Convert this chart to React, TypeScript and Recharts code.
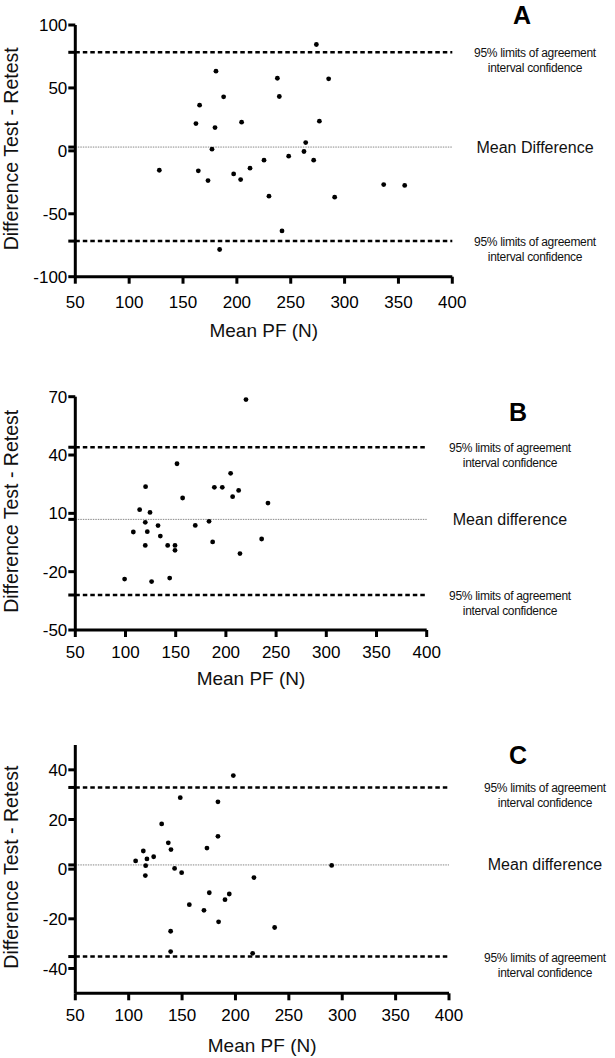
import React from "react";
import { ScatterChart, Scatter, XAxis, YAxis, ReferenceLine } from "recharts";

const FONT = '"Liberation Sans", Arial, Helvetica, sans-serif';

// shared x axis (Mean PF, N)
const meanPfTicks = [50, 100, 150, 200, 250, 300, 350, 400];

// panel A
const meanPfA = [273.8, 180.6, 237.6, 285.2, 187.7, 239.4, 165.4, 162, 204.4, 179.7, 276.6, 263.9, 176.9, 262.3, 248.1, 225.2, 271.3, 128, 164.2, 212.2, 197, 173.2, 203.5, 229.8, 290.8, 336.3, 355.8, 241.9, 184];
const diffA = [84.5, 63.3, 57.7, 57.2, 42.9, 43.2, 36.3, 21.7, 22.8, 18.5, 23.6, 6.6, 1.3, -0.5, -4.2, -7.4, -7.4, -15.4, -15.9, -13.8, -18.3, -23.6, -22.8, -36, -36.8, -26.8, -27.5, -63.6, -78.4];
const yTicksA = [-100, -50, 0, 50, 100];
const limitsA = [78.3, 3, -71.7]; // upper, mean, lower

// panel B
const meanPfB = [220, 151.3, 204.7, 120, 188.5, 196.4, 212.7, 206.7, 156.9, 241.9, 114.1, 124.4, 119.7, 183.2, 132.4, 169.5, 107.8, 121.7, 134.7, 235.6, 186.8, 119.7, 142, 149.3, 149.3, 214, 99.1, 144, 126];
const diffB = [68.5, 35.5, 30.6, 23.7, 23.4, 23.4, 21.8, 18.6, 17.9, 15.3, 11.9, 10.5, 5.4, 5.9, 3.7, 3.8, 0.4, 0.6, -1.7, -3.2, -4.7, -6.5, -6.5, -6.5, -9, -10.7, -23.8, -23.3, -25.1];
const yTicksB = [-50, -20, 10, 40, 70];
const limitsB = [44, 6.9, -32];

// panel C
const meanPfC = [198, 148.3, 183.6, 130.9, 183.6, 137.1, 173.3, 139.6, 113.7, 123.4, 117.1, 106.5, 115.9, 290.1, 143, 149.6, 115.6, 217.3, 175.5, 194.2, 190.2, 156.8, 170.5, 184.2, 236.7, 139.3, 139.3, 216.1];
const diffC = [37.7, 28.8, 27.1, 18.2, 13.2, 10.6, 8.5, 7.9, 7.3, 5, 4.1, 3.3, 1.4, 1.5, 0.3, -1.4, -2.6, -3.4, -9.5, -10, -12.3, -14.3, -16.6, -21.2, -23.5, -25, -33.2, -33.9];
const yTicksC = [-40, -20, 0, 20, 40];
const limitsC = [32.9, 1.7, -35.2];

const limitText = ["95% limits of agreement", "interval confidence"];

const toPoints = (xs: number[], ys: number[]) => xs.map((x, i) => ({ x, y: ys[i] }));

const dot = (p: any) => <circle cx={p.cx} cy={p.cy} r={2.4} fill="#000" />;

const limitLabel = (cx: number) => (props: any) => {
  const y = props.viewBox.y;
  return (
    <g fontFamily={FONT} fontSize={12} fill="#111" textAnchor="middle">
      <text x={cx} y={y + 1} dominantBaseline="central" letterSpacing={-0.3}>{limitText[0]}</text>
      <text x={cx} y={y + 16} dominantBaseline="central" letterSpacing={-0.3}>{limitText[1]}</text>
    </g>
  );
};

const meanLabel = (cx: number, txt: string) => (props: any) => (
  <text x={cx} y={props.viewBox.y} dominantBaseline="central" textAnchor="middle" fontFamily={FONT} fontSize={16} fill="#111">
    {txt}
  </text>
);

type PanelProps = {
  top: number;
  height: number;
  mTop: number;
  mBottom: number;
  mRight: number;
  xs: number[];
  ys: number[];
  yDomain: [number, number];
  yTicks: number[];
  limits: number[];
  meanText: string;
  labelX: number;
  tickGap: number;
  titleGap: number;
  letter: string;
  letterX: number;
  letterY: number;
};

function Panel(p: PanelProps) {
  const axis = { stroke: "#000", strokeWidth: 3 };
  const tickFont = { fill: "#000", fontSize: 17, fontFamily: FONT };
  return (
    <div style={{ position: "absolute", left: 0, top: p.top, width: 615, height: p.height }}>
      <ScatterChart width={615} height={p.height} margin={{ top: p.mTop, right: p.mRight, bottom: p.mBottom, left: 0 }}>
        <XAxis
          type="number"
          dataKey="x"
          domain={[50, 400]}
          ticks={meanPfTicks}
          interval={0}
          height={60}
          axisLine={axis}
          tickLine={axis}
          tickSize={7}
          tickMargin={p.tickGap}
          tick={tickFont}
          label={(lp: any) => (
            <text x={lp.viewBox.x + lp.viewBox.width / 2} y={lp.viewBox.y + p.titleGap} textAnchor="middle" dominantBaseline="central" fontFamily={FONT} fontSize={19} fill="#111">
              Mean PF (N)
            </text>
          )}
        />
        <YAxis
          type="number"
          dataKey="y"
          domain={p.yDomain}
          ticks={[...p.yTicks, ...p.limits]}
          interval={0}
          width={75.3}
          axisLine={axis}
          tickLine={axis}
          tickSize={7}
          tickMargin={1}
          tick={tickFont}
          tickFormatter={(v: number) => (p.yTicks.includes(v) ? String(v) : "")}
          label={(lp: any) => {
            const cx = 11;
            const cy = lp.viewBox.y + lp.viewBox.height / 2 - 2;
            return (
              <text x={cx} y={cy} transform={`rotate(-90 ${cx} ${cy})`} textAnchor="middle" dominantBaseline="central" fontFamily={FONT} fontSize={19.5} fill="#111">
                Difference Test - Retest
              </text>
            );
          }}
        />
        <ReferenceLine y={p.limits[0]} stroke="#000" strokeWidth={2.5} strokeDasharray="4.5 3" label={limitLabel(p.labelX)} />
        <ReferenceLine y={p.limits[1]} stroke="#888" strokeWidth={1} strokeDasharray="1.5 1" label={meanLabel(p.labelX, p.meanText)} />
        <ReferenceLine y={p.limits[2]} stroke="#000" strokeWidth={2.5} strokeDasharray="4.5 3" label={limitLabel(p.labelX)} />
        <Scatter data={toPoints(p.xs, p.ys)} shape={dot} isAnimationActive={false} />
      </ScatterChart>
      <div style={{ position: "absolute", left: p.letterX - 20, width: 40, top: p.letterY - 15, height: 30, lineHeight: "30px", textAlign: "center", fontFamily: FONT, fontWeight: "bold", fontSize: 25, color: "#000" }}>
        {p.letter}
      </div>
    </div>
  );
}

export default function App() {
  return (
    <div style={{ position: "absolute", left: 0, top: 0, width: 615, height: 1058, background: "#fff", overflow: "hidden" }}>
      <Panel
        top={0} height={350} mTop={25} mBottom={13.3} mRight={162.7}
        xs={meanPfA} ys={diffA} yDomain={[-100, 100]} yTicks={yTicksA} limits={limitsA}
        meanText="Mean Difference" labelX={535} tickGap={12} titleGap={54}
        letter="A" letterX={522} letterY={15}
      />
      <Panel
        top={350} height={350} mTop={46.7} mBottom={10} mRight={188.3}
        xs={meanPfB} ys={diffB} yDomain={[-50, 70]} yTicks={yTicksB} limits={limitsB}
        meanText="Mean difference" labelX={510} tickGap={9} titleGap={48}
        letter="B" letterX={518} letterY={62}
      />
      <Panel
        top={700} height={358} mTop={45} mBottom={4.7} mRight={166}
        xs={meanPfC} ys={diffC} yDomain={[-50, 50]} yTicks={yTicksC} limits={limitsC}
        meanText="Mean difference" labelX={545} tickGap={9} titleGap={52}
        letter="C" letterX={518} letterY={55}
      />
    </div>
  );
}
